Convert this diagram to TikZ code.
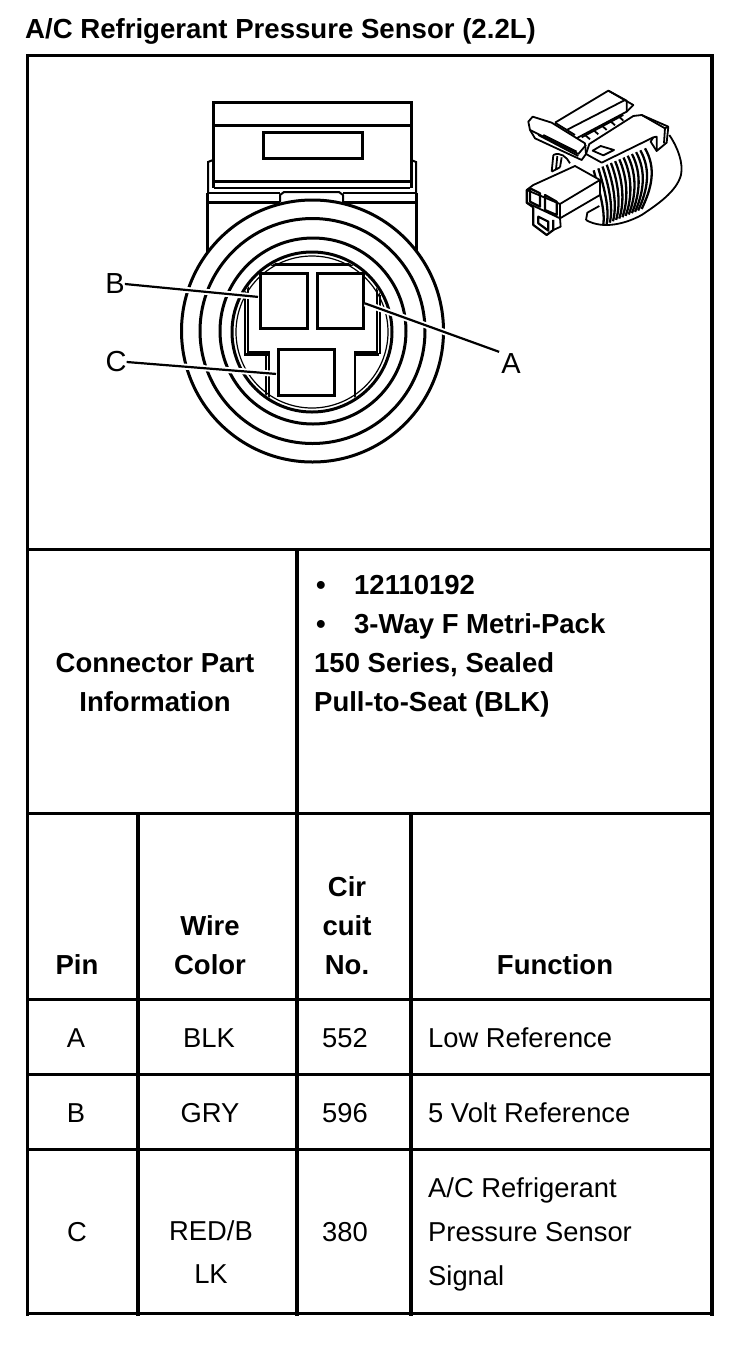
\documentclass[tikz,border=0pt]{standalone}
\usepackage{fontspec}
\setmainfont{Liberation Sans}
\begin{document}
\begin{tikzpicture}[x=1pt,y=-1pt,
  tbl/.style={line width=3pt},
  tblv/.style={line width=4pt},
  ln/.style={line width=3pt},
  mid/.style={line width=2pt},
  thin2/.style={line width=1.2pt},
  leader/.style={line width=2.2pt,preaction={draw=white,line width=6pt}},
  iso/.style={line width=1.8pt,line join=round},
  rib/.style={line width=2.3pt},
  bt/.style={anchor=base west,inner sep=0pt,font=\fontsize{27.5}{30}\selectfont\bfseries},
  bc/.style={anchor=base,inner sep=0pt,font=\fontsize{27.5}{30}\selectfont\bfseries},
  rt/.style={anchor=base west,inner sep=0pt,font=\fontsize{27.35}{30}\selectfont},
  rc/.style={anchor=base,inner sep=0pt,font=\fontsize{27.35}{30}\selectfont},
  lab/.style={inner sep=0pt,font=\fontsize{29}{30}\selectfont}]
\useasboundingbox (0,0) rectangle (752,1350);
\fill[white] (0,0) rectangle (752,1350);
% title
\node[bt,font=\fontsize{27.6}{30}\selectfont\bfseries] (title) at (25,38) {A/C Refrigerant Pressure Sensor (2.2L)};
% table
\draw[tbl] (26,55) -- (714,55);
\draw[tbl] (26,549) -- (714,549);
\draw[tbl] (26,813) -- (714,813);
\draw[tbl] (26,999) -- (714,999);
\draw[tbl] (26,1074) -- (714,1074);
\draw[tbl] (26,1149) -- (714,1149);
\draw[tbl] (26,1313) -- (714,1313);
\draw[line width=2.6pt] (27.5,54) -- (27.5,1316);
\draw[line width=3.5pt] (712,54) -- (712,1316);
\draw[tblv] (297,549) -- (297,1316);
\draw[tblv] (138,813) -- (138,1316);
\draw[line width=3.2pt] (411,813) -- (411,1316);
% housing
\draw[ln] (213,125) -- (213,102) -- (411,102) -- (411,125);
\draw[ln] (213,125) -- (411,125);
\draw[ln] (213,125) -- (213,188) (411,125) -- (411,188);
\draw[ln] (213,181) -- (411,181);
\draw[mid] (214,188) -- (410,188);
\draw[ln] (263,132) rectangle (362,158);
\draw[mid] (213,160) -- (208,162) -- (208,193) (411,160) -- (416,162) -- (416,193);
\draw[mid] (208,193) -- (280,193) (343,193) -- (416,193);
\draw[ln] (207,202) -- (280,202) (343,202) -- (417,202);
\draw[mid] (280,202) -- (280,195) -- (284,192) -- (339,192) -- (343,195) -- (343,202);
\draw[ln] (207,193) -- (207,252) (416,193) -- (416,252);
% rings
\draw[ln,fill=white] (312.5,331) circle[radius=131];
\draw[ln] (312.5,331) circle[radius=112.5];
\draw[ln] (313,331) circle[radius=93];
\draw[ln] (312,332) circle[radius=80];
% inner shape
\begin{scope}
\clip (312,332) circle[radius=78];
\draw[ln] (262,264) -- (362,264);
\draw[mid] (248,280) -- (248,352) -- (269,352) -- (269,410);
\draw[thin2] (245,280) -- (245,354);
\draw[ln] (244,354) -- (270,354);
\draw[mid] (377,280) -- (377,352) -- (355,352) -- (355,410);
\draw[ln] (356,354) -- (379,354);
\draw[thin2] (380,280) -- (380,354);
\draw[thin2] (266,354) -- (266,410);
\end{scope}
\draw[thin2] (312,332) circle[radius=76];
% pins
\draw[ln,fill=white] (260,273) rectangle (307,328);
\draw[ln,fill=white] (317,273) rectangle (363,328);
\draw[ln,fill=white] (278,349) rectangle (334,395);
% labels and leaders
\node[lab] (labB) at (115,284) {B};
\node[lab] (labC) at (116,362) {C};
\node[lab] (labA) at (511,364) {A};
\coordinate (pinB) at (259,297);
\coordinate (pinC) at (277,374);
\coordinate (pinA) at (364,303);
\draw[leader,shorten >=1pt] (labB.east) -- (pinB);
\draw[leader,shorten >=1pt] (labC.east) -- (pinC);
\draw[leader,shorten >=1pt] (labA.north west) ++(-2,-2) -- (pinA);
% isometric connector
\begin{scope}[shift={(510,80)},x=0.3333pt,y=-0.3333pt,iso]
% outer shell
\draw (478,165) .. controls (505,205) and (520,250) .. (513,285) .. controls (500,335) and (440,375) .. (395,405) .. controls (350,430) and (280,450) .. (228,420);
% ribs
\foreach \t in {-0.1,0,0.09,0.18,0.27,0.36,0.45,0.54,0.63,0.72,0.81,0.9,1}{
  \draw[rib] ({265+140*\t},{265-60*\t}) .. controls ({280+160*\t},{315-50*\t}) and ({300+125*\t},{385-60*\t}) .. ({290+105*\t},{432-45*\t});
}
% back of lever
\draw (130,225) -- (125,275) (142,228) -- (138,268) (155,232) -- (150,262) (125,275) -- (150,262);
\draw (130,225) .. controls (150,215) and (170,230) .. (180,250);
% plate on top
\draw (135,128) -- (295,32) -- (370,75) -- (350,95) -- (190,180);
\draw (135,128) -- (195,165);
\draw (170,150) -- (345,60);
\draw (295,32) -- (350,62) -- (350,95);
\draw (215,172) -- (340,105);
\draw (225,165) -- (240,178) (250,150) -- (265,163) (275,136) -- (290,150) (300,122) -- (315,136) (325,108) -- (340,122);
% main top of body
\draw[fill=white] (228,222) -- (238,192) -- (370,108) -- (395,105) -- (475,140) -- (470,188) -- (440,213) -- (440,170) -- (430,172) -- (275,248) -- cycle;
\draw (395,105) -- (465,145) -- (475,140) (465,145) -- (462,190);
\draw (430,172) -- (422,185) -- (440,213);
\draw (248,212) -- (272,198) -- (312,210) -- (280,226) -- cycle;
% lever
\draw[fill=white] (55,125) -- (68,110) -- (125,128) -- (225,190) -- (228,222) -- (215,240) -- (75,175) -- (60,150) -- cycle;
\draw (60,150) -- (205,222) -- (228,195);
\draw (85,165) -- (205,228);
\draw (100,165) -- (200,215);
% plug
\draw[fill=white] (50,330) -- (70,315) -- (195,258) -- (270,300) -- (270,345) -- (150,415) -- (150,372) -- cycle;
\draw (150,372) -- (270,300);
\draw[line width=2.2pt] (50,330) -- (50,368) -- (70,382) (70,382) -- (70,435) -- (110,465) -- (130,450) -- (130,420);
\draw (50,368) -- (150,415);
\draw[line width=2.2pt] (60,325) -- (90,340) -- (90,380) -- (60,365) -- cycle;
\draw[line width=2.2pt] (105,345) -- (140,365) -- (140,405) -- (105,390) -- cycle;
\draw[line width=2.2pt] (85,410) -- (115,425) -- (115,452) -- (85,430) -- cycle;
\draw (130,450) -- (152,440) -- (150,415);
\draw (228,420) -- (232,398) -- (268,378);
\end{scope}
% connector part info
\node[bc] (cpi1) at (155,672) {Connector Part};
\node[bc] (cpi2) at (155,711) {Information};
\node[bt] (b1) at (316,594) {•};
\node[bt] (pn) at (354,594) {12110192};
\node[bt] (b2) at (316,633) {•};
\node[bt] (mp) at (354,633) {3-Way F Metri-Pack};
\node[bt] (s150) at (314,672) {150 Series, Sealed};
\node[bt] (pull) at (314,711) {Pull-to-Seat (BLK)};
% header
\node[bc] (hPin) at (77,974) {Pin};
\node[bc] (hWire) at (210,935) {Wire};
\node[bc] (hColor) at (210,974) {Color};
\node[bc] (hCir) at (347,896) {Cir};
\node[bc] (hCuit) at (347,935) {cuit};
\node[bc] (hNo) at (347,974) {No.};
\node[bc] (hFn) at (555,974) {Function};
% rows
\node[rc] (pA) at (76,1047) {A};
\node[rc] (wA) at (209,1047) {BLK};
\node[rc] (cA) at (345,1047) {552};
\node[rt] (fA) at (428,1047) {Low Reference};
\node[rc] (pB) at (76,1122) {B};
\node[rc] (wB) at (210,1122) {GRY};
\node[rc] (cB) at (345,1122) {596};
\node[rt] (fB) at (428,1122) {5 Volt Reference};
\node[rc] (pC) at (77,1241) {C};
\node[rc] (wC1) at (211,1240) {RED/B};
\node[rc] (wC2) at (211,1283) {LK};
\node[rc] (cC) at (345,1241) {380};
\node[rt] (fC1) at (428,1197) {A/C Refrigerant};
\node[rt] (fC2) at (428,1241) {Pressure Sensor};
\node[rt] (fC3) at (428,1285) {Signal};
\end{tikzpicture}
\end{document}
